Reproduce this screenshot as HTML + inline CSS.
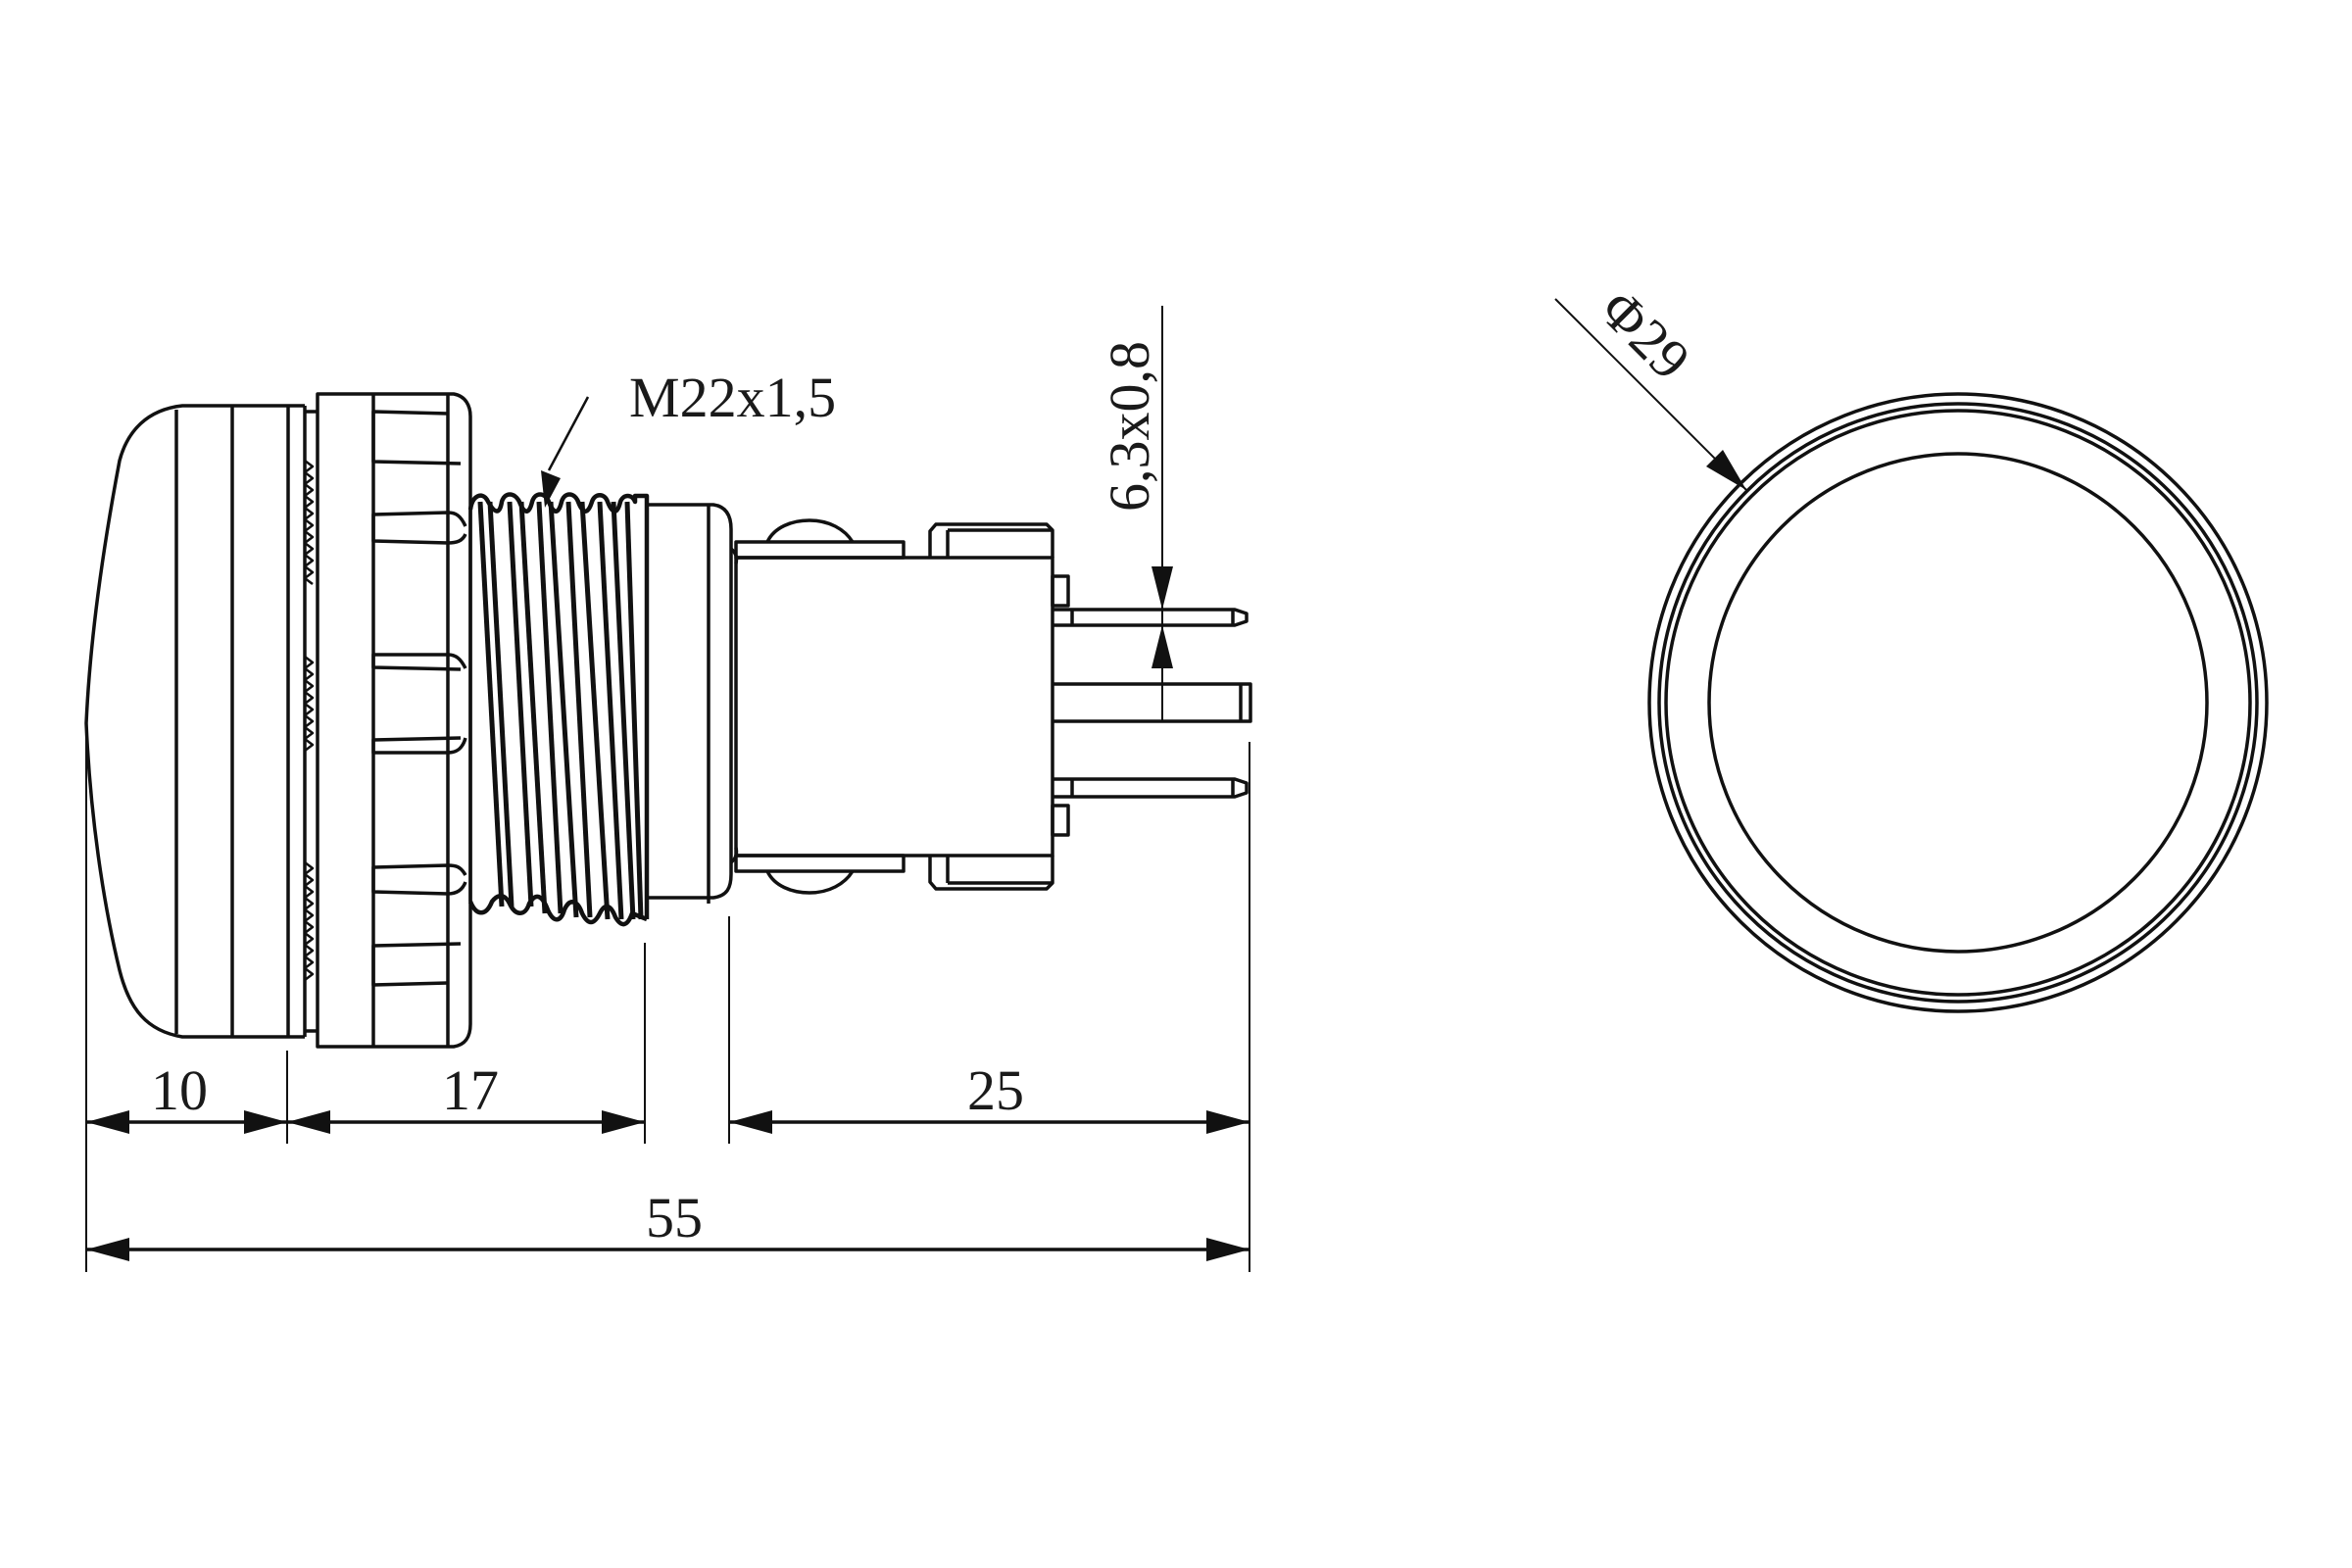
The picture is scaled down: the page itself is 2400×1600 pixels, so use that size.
<!DOCTYPE html>
<html><head><meta charset="utf-8"><style>
html,body{margin:0;padding:0;background:#fff;}
svg{display:block;}
text{font-family:"Liberation Serif",serif;fill:#1a1a1a;}
</style></head><body>
<svg width="2400" height="1600" viewBox="0 0 2400 1600" xmlns="http://www.w3.org/2000/svg">
<g fill="none" stroke="#111" stroke-width="3.5" stroke-linejoin="round">
<!-- Lens -->
<path d="M294,414 L186,414 C150,418 130,440 122,470 C105,560 92,650 88,738 C92,830 105,920 122,990 C132,1030 150,1052 186,1058 L294,1058"/>
<line x1="180" y1="418" x2="180" y2="1055"/>
<line x1="237" y1="414" x2="237" y2="1058"/>
<line x1="294" y1="414" x2="294" y2="1058"/>
<line x1="294" y1="414" x2="311" y2="414"/>
<line x1="294" y1="1058" x2="311" y2="1058"/>
<line x1="311" y1="414" x2="311" y2="1058"/>
<line x1="311" y1="420" x2="324" y2="420"/>
<line x1="311" y1="1052" x2="324" y2="1052"/>
<path d="M311,470 l8,6 l-8,6 l8,6 l-8,6 l8,6 l-8,6 l8,6 l-8,6 l8,6 l-8,6 l8,6 l-8,6 l8,6 l-8,6 l8,6 l-8,6 l8,6 l-8,6 l8,6 l-8,6 l8,6" stroke-width="2.5"/>
<path d="M311,670 l8,6 l-8,6 l8,6 l-8,6 l8,6 l-8,6 l8,6 l-8,6 l8,6 l-8,6 l8,6 l-8,6 l8,6 l-8,6 l8,6 l-8,6" stroke-width="2.5"/>
<path d="M311,880 l8,6 l-8,6 l8,6 l-8,6 l8,6 l-8,6 l8,6 l-8,6 l8,6 l-8,6 l8,6 l-8,6 l8,6 l-8,6 l8,6 l-8,6 l8,6 l-8,6 l8,6 l-8,6" stroke-width="2.5"/>
<!-- Flange -->
<path d="M324,402 L463,402 C475,404 480,414 480,425 L480,1045 C480,1058 475,1066 463,1068 L324,1068 Z"/>
<line x1="381" y1="402" x2="381" y2="1068"/>
<line x1="457" y1="402" x2="457" y2="1068"/>
<path d="M457,422 L381,420 L381,471 L470,473"/>
<path d="M475,537 C470,526 465,523 457,523 L381,525 L381,552 L457,554 C466,554 472,552 475,545"/>
<path d="M475,682 C470,672 465,668 457,668 L381,668 L381,681 L470,683"/>
<path d="M470,753 L381,755 L381,768 L457,768 C466,768 472,764 475,753"/>
<path d="M475,893 C470,884 465,883 457,883 L381,885 L381,910 L457,912 C466,912 472,908 475,900"/>
<path d="M470,963 L381,965 L381,1005 L457,1003"/>
<!-- Thread outline -->
<path d="M480,520 C482,505 492,502 497,510 C505,525 510,525 512,512 C515,502 525,502 530,512 C535,525 540,525 543,512 C546,502 556,502 560,512 C565,525 570,525 573,512 C576,502 586,502 590,512 C595,525 600,525 604,512 C607,503 617,503 620,512 C625,525 630,525 633,512 C636,504 645,504 648,512 L648,506 L660,506 L660,938" stroke-width="4.5"/>
<path d="M480,920 C486,935 496,935 502,920 C508,912 515,912 520,922 C526,935 536,935 540,922 C546,912 552,912 558,926 C564,942 572,942 576,928 C582,915 590,920 594,932 C600,944 606,944 612,932 C618,920 624,925 628,936 C634,946 640,946 645,932 L660,938" stroke-width="4.5"/>
<line x1="480" y1="520" x2="480" y2="920"/>
<g stroke-width="5">
<line x1="490" y1="512" x2="512" y2="925"/>
<line x1="500" y1="512" x2="522" y2="925"/>
<line x1="520" y1="512" x2="542" y2="925"/>
<line x1="532" y1="512" x2="556" y2="932"/>
<line x1="550" y1="512" x2="572" y2="932"/>
<line x1="562" y1="512" x2="588" y2="936"/>
<line x1="580" y1="512" x2="602" y2="936"/>
<line x1="594" y1="512" x2="620" y2="938"/>
<line x1="612" y1="512" x2="634" y2="938"/>
<line x1="626" y1="512" x2="646" y2="938"/>
<line x1="640" y1="512" x2="654" y2="938"/>
</g>
<!-- Collar -->
<path d="M660,515 L723,515 L728,515 C742,517 746,528 746,540 L746,892 C746,906 742,914 728,916 L660,916"/>
<line x1="723" y1="515" x2="723" y2="922"/>
<rect x="751" y="553" width="171" height="16"/>
<rect x="751" y="873" width="171" height="16"/>
<path d="M783,553 C790,538 808,531 826,531 C846,531 862,540 870,553"/>
<path d="M783,889 C790,904 808,911 826,911 C846,911 862,902 870,889"/>
<rect x="751" y="569" width="323" height="304"/>
<path d="M746,560 C752,565 752,570 751,575"/>
<path d="M746,880 C752,875 752,870 751,865"/>
<path d="M949,569 L949,542 L955,535 L1068,535 L1074,541 L1074,569"/>
<line x1="967" y1="541" x2="967" y2="569"/>
<line x1="967" y1="541" x2="1074" y2="541"/>
<path d="M949,873 L949,900 L955,907 L1068,907 L1074,901 L1074,873"/>
<line x1="967" y1="873" x2="967" y2="901"/>
<line x1="967" y1="901" x2="1074" y2="901"/>
<rect x="1074" y="588" width="16" height="30"/>
<rect x="1074" y="822" width="16" height="30"/>
<path d="M1074,622 L1260,622 L1272,626 L1272,634 L1260,638 L1074,638"/>
<line x1="1094" y1="622" x2="1094" y2="638"/>
<line x1="1258" y1="622" x2="1258" y2="638"/>
<path d="M1074,698 L1276,698 L1276,736 L1074,736"/>
<line x1="1266" y1="698" x2="1266" y2="736"/>
<path d="M1074,795 L1260,795 L1272,799 L1272,809 L1260,813 L1074,813"/>
<line x1="1094" y1="795" x2="1094" y2="813"/>
<line x1="1258" y1="795" x2="1258" y2="813"/>
</g>
<g stroke="#111" stroke-width="2" fill="none">
<line x1="88" y1="738" x2="88" y2="1298"/>
<line x1="293" y1="1072" x2="293" y2="1167"/>
<line x1="658" y1="962" x2="658" y2="1167"/>
<line x1="744" y1="935" x2="744" y2="1167"/>
<line x1="1275" y1="757" x2="1275" y2="1298"/>
<line x1="1186" y1="312" x2="1186" y2="736"/>
<line x1="1587" y1="305" x2="1782" y2="500"/>
<line x1="600" y1="405" x2="560" y2="480" stroke-width="2.5"/>
</g>
<g stroke="#111" stroke-width="3.5">
<line x1="88" y1="1145" x2="293" y2="1145"/>
<line x1="293" y1="1145" x2="658" y2="1145"/>
<line x1="744" y1="1145" x2="1275" y2="1145"/>
<line x1="88" y1="1275" x2="1275" y2="1275"/>
</g>
<g fill="#111">
<polygon points="88,1145 132,1133 132,1157"/>
<polygon points="293,1145 249,1133 249,1157"/>
<polygon points="293,1145 337,1133 337,1157"/>
<polygon points="658,1145 614,1133 614,1157"/>
<polygon points="744,1145 788,1133 788,1157"/>
<polygon points="1275,1145 1231,1133 1231,1157"/>
<polygon points="88,1275 132,1263 132,1287"/>
<polygon points="1275,1275 1231,1263 1231,1287"/>
<polygon points="1186,622 1175,578 1197,578"/>
<polygon points="1186,638 1175,682 1197,682"/>
<polygon points="1782,500 1741,476 1758,459"/>
<polygon points="556,518 552,480 572,488"/>
</g>
<g font-size="58" text-anchor="middle">
<text x="183" y="1132">10</text>
<text x="480" y="1132">17</text>
<text x="1016" y="1132">25</text>
<text x="688" y="1262">55</text>
<text x="642" y="425" text-anchor="start">M22x1,5</text>
<text transform="translate(1172,435) rotate(-90)" x="0" y="0">6,3x0,8</text>
<text transform="translate(1665,355) rotate(45)" x="0" y="0">Φ29</text>
</g>
<g fill="none" stroke="#111" stroke-width="3.5">
<circle cx="1998" cy="717" r="315"/>
<circle cx="1998" cy="717" r="305"/>
<circle cx="1998" cy="717" r="298"/>
<circle cx="1998" cy="717" r="254"/>
</g>
</svg>
</body></html>
